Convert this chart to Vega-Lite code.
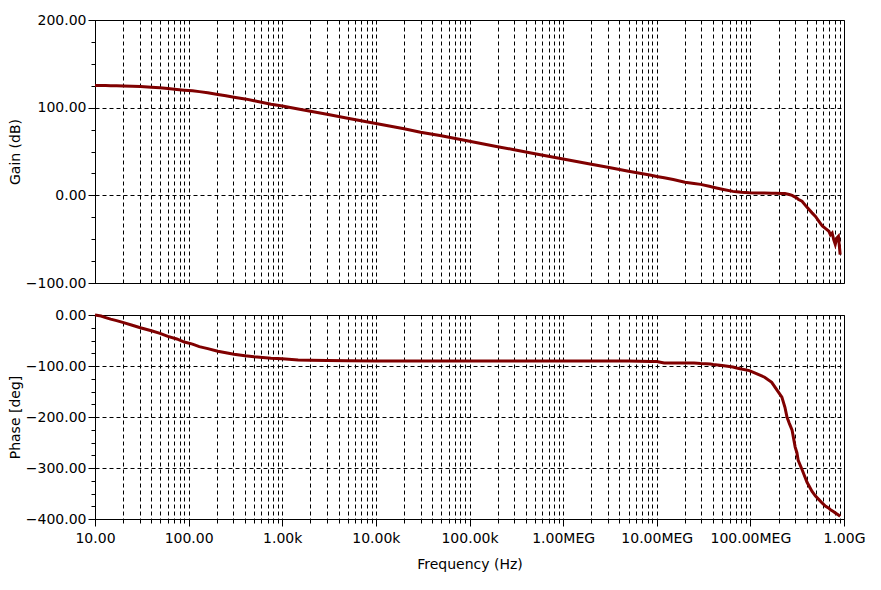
{
  "$schema": "https://vega.github.io/schema/vega-lite/v6.json",
  "background": "white",
  "padding": {"left": 7, "top": 12, "right": 5, "bottom": 5},
  "spacing": 32,
  "bounds": "flush",
  "config": {
    "font": "DejaVu Sans",
    "view": {"stroke": "black", "strokeWidth": 1},
    "axis": {
      "labelFont": "DejaVu Sans", "labelFontSize": 14, "labelColor": "black",
      "titleFont": "DejaVu Sans", "titleFontSize": 14, "titleFontWeight": "normal", "titleColor": "black",
      "domainColor": "black", "tickColor": "black", "gridColor": "black",
      "gridDash": [4, 3], "gridOpacity": 1, "gridWidth": 1
    }
  },
  "data": {"values": [
    {"f": 10, "gain": 125.3, "phase": 0},
    {"f": 11.6, "gain": 125.3, "phase": -2},
    {"f": 13, "gain": 125.2, "phase": -5},
    {"f": 14.7, "gain": 125.1, "phase": -8},
    {"f": 17, "gain": 125, "phase": -11},
    {"f": 20.2, "gain": 124.8, "phase": -15},
    {"f": 25, "gain": 124.5, "phase": -20},
    {"f": 30.5, "gain": 124.1, "phase": -25},
    {"f": 40, "gain": 123.4, "phase": -31},
    {"f": 49.5, "gain": 122.6, "phase": -36},
    {"f": 60, "gain": 121.8, "phase": -42},
    {"f": 74.8, "gain": 120.8, "phase": -47},
    {"f": 90, "gain": 120, "phase": -53},
    {"f": 110, "gain": 119.2, "phase": -57},
    {"f": 130, "gain": 118.3, "phase": -62},
    {"f": 160, "gain": 117, "phase": -66},
    {"f": 205, "gain": 115, "phase": -71},
    {"f": 250, "gain": 113.5, "phase": -74},
    {"f": 305, "gain": 112, "phase": -77},
    {"f": 400, "gain": 110, "phase": -80},
    {"f": 500, "gain": 108, "phase": -82},
    {"f": 760, "gain": 104, "phase": -85},
    {"f": 1000, "gain": 101.8, "phase": -86},
    {"f": 1480, "gain": 98.5, "phase": -88},
    {"f": 2000, "gain": 96, "phase": -88.5},
    {"f": 3000, "gain": 92.5, "phase": -89},
    {"f": 5000, "gain": 88, "phase": -89.5},
    {"f": 10000, "gain": 82, "phase": -90},
    {"f": 20000, "gain": 76, "phase": -90},
    {"f": 30000, "gain": 72, "phase": -90},
    {"f": 50000, "gain": 68, "phase": -90},
    {"f": 100000, "gain": 61.6, "phase": -90},
    {"f": 200000, "gain": 55.5, "phase": -90},
    {"f": 300000, "gain": 52, "phase": -90},
    {"f": 500000, "gain": 47.5, "phase": -90},
    {"f": 1000000, "gain": 41.5, "phase": -90},
    {"f": 2000000, "gain": 35.5, "phase": -90},
    {"f": 3000000, "gain": 32, "phase": -90},
    {"f": 5000000, "gain": 27.5, "phase": -90},
    {"f": 8700000, "gain": 23, "phase": -91},
    {"f": 10000000, "gain": 21.5, "phase": -91},
    {"f": 12000000, "gain": 20, "phase": -94},
    {"f": 15000000, "gain": 18, "phase": -94},
    {"f": 20000000, "gain": 15, "phase": -94},
    {"f": 25000000, "gain": 13.5, "phase": -94},
    {"f": 29400000, "gain": 12.5, "phase": -95},
    {"f": 37400000, "gain": 10, "phase": -96},
    {"f": 40000000, "gain": 9.2, "phase": -97},
    {"f": 50000000, "gain": 7, "phase": -99},
    {"f": 65000000, "gain": 4.5, "phase": -102},
    {"f": 71400000, "gain": 4, "phase": -104},
    {"f": 80000000, "gain": 3.5, "phase": -106},
    {"f": 97600000, "gain": 3, "phase": -109},
    {"f": 116000000, "gain": 2.8, "phase": -115},
    {"f": 142000000, "gain": 2.6, "phase": -122},
    {"f": 169000000, "gain": 2.5, "phase": -132},
    {"f": 187000000, "gain": 2.4, "phase": -144},
    {"f": 217000000, "gain": 2.2, "phase": -161},
    {"f": 234000000, "gain": 2, "phase": -181},
    {"f": 246000000, "gain": 1.5, "phase": -200},
    {"f": 260000000, "gain": 1, "phase": -212},
    {"f": 279000000, "gain": 0, "phase": -226},
    {"f": 301000000, "gain": -2, "phase": -259},
    {"f": 314000000, "gain": -3, "phase": -270},
    {"f": 324000000, "gain": -4.5, "phase": -285},
    {"f": 356000000, "gain": -6.8, "phase": -303},
    {"f": 403000000, "gain": -13.7, "phase": -328},
    {"f": 456000000, "gain": -20, "phase": -346},
    {"f": 496000000, "gain": -24, "phase": -355},
    {"f": 540000000, "gain": -29.6, "phase": -362},
    {"f": 587000000, "gain": -35, "phase": -369},
    {"f": 637000000, "gain": -38, "phase": -375},
    {"f": 690000000, "gain": -41, "phase": -379},
    {"f": 717000000, "gain": -45, "phase": -382},
    {"f": 747000000, "gain": -43, "phase": -384},
    {"f": 776000000, "gain": -50.5, "phase": -386},
    {"f": 807000000, "gain": -56, "phase": -388},
    {"f": 840000000, "gain": -48.6, "phase": -390},
    {"f": 872000000, "gain": -46.7, "phase": -392},
    {"f": 910000000, "gain": -67.6, "phase": -395}
  ]},
  "vconcat": [
    {
      "width": 749,
      "height": 263,
      "mark": {"type": "line", "color": "#800000", "strokeWidth": 3},
      "encoding": {
        "x": {
          "field": "f", "type": "quantitative",
          "scale": {"type": "log", "domain": [10, 1000000000], "nice": false},
          "axis": {
            "values": [10,20,30,40,50,60,70,80,90,100,200,300,400,500,600,700,800,900,1000,2000,3000,4000,5000,6000,7000,8000,9000,10000,20000,30000,40000,50000,60000,70000,80000,90000,100000,200000,300000,400000,500000,600000,700000,800000,900000,1000000,2000000,3000000,4000000,5000000,6000000,7000000,8000000,9000000,10000000,20000000,30000000,40000000,50000000,60000000,70000000,80000000,90000000,100000000,200000000,300000000,400000000,500000000,600000000,700000000,800000000,900000000,1000000000],
            "labels": false, "ticks": false, "domain": false, "title": null, "grid": true
          }
        },
        "y": {
          "field": "gain", "type": "quantitative",
          "scale": {"domain": [-100, 200], "nice": false, "zero": false},
          "axis": {
            "values": [-100,-75,-50,-25,0,25,50,75,100,125,150,175,200],
            "labelExpr": "datum.value % 100 == 0 ? format(datum.value, '.2f') : ''",
            "tickSize": {"condition": {"test": "datum.value % 100 == 0", "value": 7}, "value": 4},
            "gridOpacity": {"condition": {"test": "datum.value % 100 == 0", "value": 1}, "value": 0},
            "labelPadding": 2,
            "labelOverlap": false,
            "title": "Gain (dB)",
            "titlePadding": 3
          }
        }
      }
    },
    {
      "width": 749,
      "height": 204,
      "mark": {"type": "line", "color": "#800000", "strokeWidth": 3},
      "encoding": {
        "x": {
          "field": "f", "type": "quantitative",
          "scale": {"type": "log", "domain": [10, 1000000000], "nice": false},
          "axis": {
            "values": [10,20,30,40,50,60,70,80,90,100,200,300,400,500,600,700,800,900,1000,2000,3000,4000,5000,6000,7000,8000,9000,10000,20000,30000,40000,50000,60000,70000,80000,90000,100000,200000,300000,400000,500000,600000,700000,800000,900000,1000000,2000000,3000000,4000000,5000000,6000000,7000000,8000000,9000000,10000000,20000000,30000000,40000000,50000000,60000000,70000000,80000000,90000000,100000000,200000000,300000000,400000000,500000000,600000000,700000000,800000000,900000000,1000000000],
            "labelExpr": "abs(log(datum.value)/LN10 - round(log(datum.value)/LN10)) < 0.001 ? (datum.value >= 1000000000 ? format(datum.value/1000000000, '.2f') + 'G' : datum.value >= 1000000 ? format(datum.value/1000000, '.2f') + 'MEG' : datum.value >= 1000 ? format(datum.value/1000, '.2f') + 'k' : format(datum.value, '.2f')) : ''",
            "tickSize": {"condition": {"test": "abs(log(datum.value)/LN10 - round(log(datum.value)/LN10)) < 0.001", "value": 7}, "value": 4},
            "labelOverlap": false,
            "labelFlush": false,
            "labelPadding": 5,
            "grid": true,
            "title": "Frequency (Hz)",
            "titlePadding": 12
          }
        },
        "y": {
          "field": "phase", "type": "quantitative",
          "scale": {"domain": [-400, 0], "nice": false, "zero": false},
          "axis": {
            "values": [-400,-375,-350,-325,-300,-275,-250,-225,-200,-175,-150,-125,-100,-75,-50,-25,0],
            "labelExpr": "datum.value % 100 == 0 ? format(datum.value, '.2f') : ''",
            "tickSize": {"condition": {"test": "datum.value % 100 == 0", "value": 7}, "value": 4},
            "gridOpacity": {"condition": {"test": "datum.value % 100 == 0", "value": 1}, "value": 0},
            "labelPadding": 2,
            "labelOverlap": false,
            "title": "Phase [deg]",
            "titlePadding": 3
          }
        }
      }
    }
  ]
}
